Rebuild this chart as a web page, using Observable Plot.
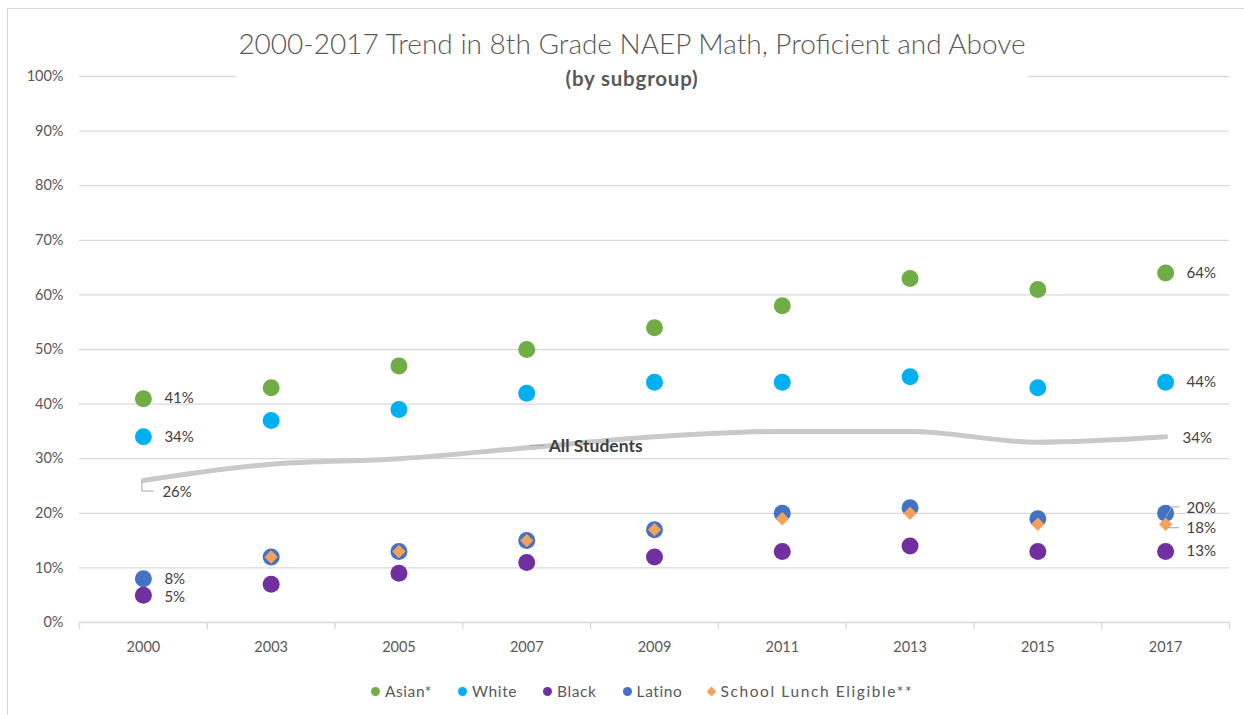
<!DOCTYPE html>
<html>
<head>
<meta charset="utf-8">
<script src="https://cdn.jsdelivr.net/npm/d3@7"></script>
<script src="https://cdn.jsdelivr.net/npm/@observablehq/plot@0.6"></script>
<style>
  body { margin: 0; background: #fff; font-family: Lato, "Open Sans", sans-serif; }
  #wrap { position: relative; width: 1244px; height: 715px; overflow: hidden; background: #fff; }
  #chart svg { position: absolute; left: 0; top: 0; }
  #frame { position: absolute; left: 7px; top: 8px; width: 1400px; height: 900px;
           border-left: 1.5px solid #dadada; border-top: 1.5px solid #dadada; pointer-events: none; }
  #titlebox { position: absolute; left: 236px; width: 792px; top: 24px; height: 70px; background: #fff; text-align: center; }
  #title { font-size: 28px; color: #595959; font-weight: 300; line-height: 38px; white-space: nowrap; }
  #subtitle { font-size: 20.5px; color: #595959; font-weight: bold; line-height: 26px; margin-top: 3px; letter-spacing: 0.8px; }
  #legend { position: absolute; left: 0; width: 1284px; top: 682px; display: flex; justify-content: center;
            font-size: 15.5px; color: #595959; gap: 26px; letter-spacing: 0.6px; }
  .item { display: flex; align-items: center; gap: 5px; white-space: nowrap; }
  .item.wide { letter-spacing: 1.6px; }
  .mk { width: 9px; height: 9px; border-radius: 50%; display: inline-block; }
  .mk.diamond { width: 7px; height: 7px; border-radius: 0; transform: rotate(45deg); }
</style>
</head>
<body>
<div id="wrap">
  <div id="chart"></div>
  <div id="frame"></div>
  <div id="titlebox">
    <div id="title">2000-2017 Trend in 8th Grade NAEP Math, Proficient and Above</div>
    <div id="subtitle">(by subgroup)</div>
  </div>
  <div id="legend"></div>
</div>
<script>
// ---- data ----
const years = ["2000", "2003", "2005", "2007", "2009", "2011", "2013", "2015", "2017"];
const asian = [41, 43, 47, 50, 54, 58, 63, 61, 64];
const white = [34, 37, 39, 42, 44, 44, 45, 43, 44];
const black = [5, 7, 9, 11, 12, 13, 14, 13, 13];
const latino = [8, 12, 13, 15, 17, 20, 21, 19, 20];
const lunch = [null, 12, 13, 15, 17, 19, 20, 18, 18];
const allStudents = [26, 29, 30, 32, 34, 35, 35, 33, 34];
const seriesNames = ["Asian*", "White", "Black", "Latino", "School Lunch Eligible**"];
const seriesColors = ["#70ad47", "#00b0f0", "#7030a0", "#4472c4", "#f4a15c"];
const lineColor = "#c9c9c9";
const yTicks = [0, 10, 20, 30, 40, 50, 60, 70, 80, 90, 100];

// ---- helpers ----
const idx = years.map((_, i) => i);
const last = years.length - 1;
const rows = vals => vals.map((v, i) => ({i, v})).filter(d => d.v != null);
const boundaries = d3.range(years.length + 1).map(i => i - 0.5);
const pct = v => v + "%";
const lab = (arr, i) => [{i, v: arr[i], t: pct(arr[i])}];
const textStyle = {x: "i", y: "v", text: "t", fill: "#404040", fontSize: 15, textAnchor: "start"};

const leaders = (index, scales) => {
  const x = scales.x, y = scales.y;
  const g = d3.create("svg:g").attr("fill", "none").attr("stroke", "#a6a6a6").attr("stroke-width", 1);
  const x0 = x(0), y0 = y(allStudents[0]);
  g.append("path").attr("d", `M${x0 - 1},${y0 + 1}V${y0 + 11}H${x0 + 11}`);
  const x3 = x(3), y3 = y(allStudents[3]);
  g.append("path").attr("d", `M${x3 + 3},${y3 - 2}H${x3 + 19}`);
  const xl = x(last), yl = y(latino[last]), yd = y(lunch[last]);
  g.append("path").attr("d", `M${xl + 1},${yl + 4}L${xl + 7},${yl - 6}H${xl + 14}`);
  g.append("path").attr("d", `M${xl + 3},${yd + 4}H${xl + 14}`);
  return g.node();
};

const chart = Plot.plot({
  width: 1244,
  height: 715,
  marginLeft: 79,
  marginRight: 15,
  marginTop: 76,
  marginBottom: 93,
  style: {fontFamily: "Lato, 'Open Sans', sans-serif", fontSize: "14px", color: "#595959", background: "transparent"},
  x: {domain: [-0.5, last + 0.5], axis: null},
  y: {domain: [0, 100], axis: null},
  marks: [
    Plot.gridY(yTicks, {stroke: "#d9d9d9", strokeOpacity: 1, strokeWidth: 1.3}),
    Plot.ruleX(boundaries, {y1: 0, y2: -1.3, stroke: "#d9d9d9", strokeWidth: 1.3}),
    Plot.axisY(yTicks, {tickSize: 0, tickPadding: 16, tickFormat: pct, fill: "#595959", fontSize: 14.5, label: null}),
    Plot.axisX(idx, {tickSize: 0, tickPadding: 19, tickFormat: i => years[i], fill: "#595959", fontSize: 14.5, label: null}),
    Plot.line(rows(allStudents), {x: "i", y: "v", stroke: lineColor, strokeWidth: 5, curve: "monotone-x"}),
    Plot.dot(rows(asian), {x: "i", y: "v", r: 8.5, fill: seriesColors[0]}),
    Plot.dot(rows(white), {x: "i", y: "v", r: 8.5, fill: seriesColors[1]}),
    Plot.dot(rows(black), {x: "i", y: "v", r: 8.5, fill: seriesColors[2]}),
    Plot.dot(rows(latino), {x: "i", y: "v", r: 8.5, fill: seriesColors[3]}),
    Plot.dot(rows(lunch), {x: "i", y: "v", r: 6, symbol: "diamond2", fill: seriesColors[4], stroke: "none"}),
    leaders,
    // left labels
    Plot.text([...lab(asian, 0), ...lab(white, 0), ...lab(latino, 0)], {...textStyle, dx: 21}),
    Plot.text(lab(black, 0), {...textStyle, dx: 21, dy: 2}),
    Plot.text(lab(allStudents, 0), {...textStyle, dx: 19, dy: 12}),
    Plot.text([{i: 3, v: allStudents[3], t: "All Students"}],
      {...textStyle, dx: 22, dy: -1, fontSize: 17.5, fontWeight: "bold", letterSpacing: "1.3px"}),
    // right labels
    Plot.text([...lab(asian, last), ...lab(white, last), ...lab(black, last)], {...textStyle, dx: 21}),
    Plot.text(lab(allStudents, last), {...textStyle, dx: 17, dy: 1}),
    Plot.text(lab(latino, last), {...textStyle, dx: 21, dy: -5}),
    Plot.text(lab(lunch, last), {...textStyle, dx: 21, dy: 4})
  ]
});
document.getElementById("chart").appendChild(chart);

// ---- legend ----
const legend = d3.select("#legend");
seriesNames.forEach((name, k) => {
  const item = legend.append("div").attr("class", k === 4 ? "item wide" : "item");
  item.append("span").attr("class", k === 4 ? "mk diamond" : "mk").style("background", seriesColors[k]);
  item.append("span").text(name);
});
</script>
</body>
</html>
